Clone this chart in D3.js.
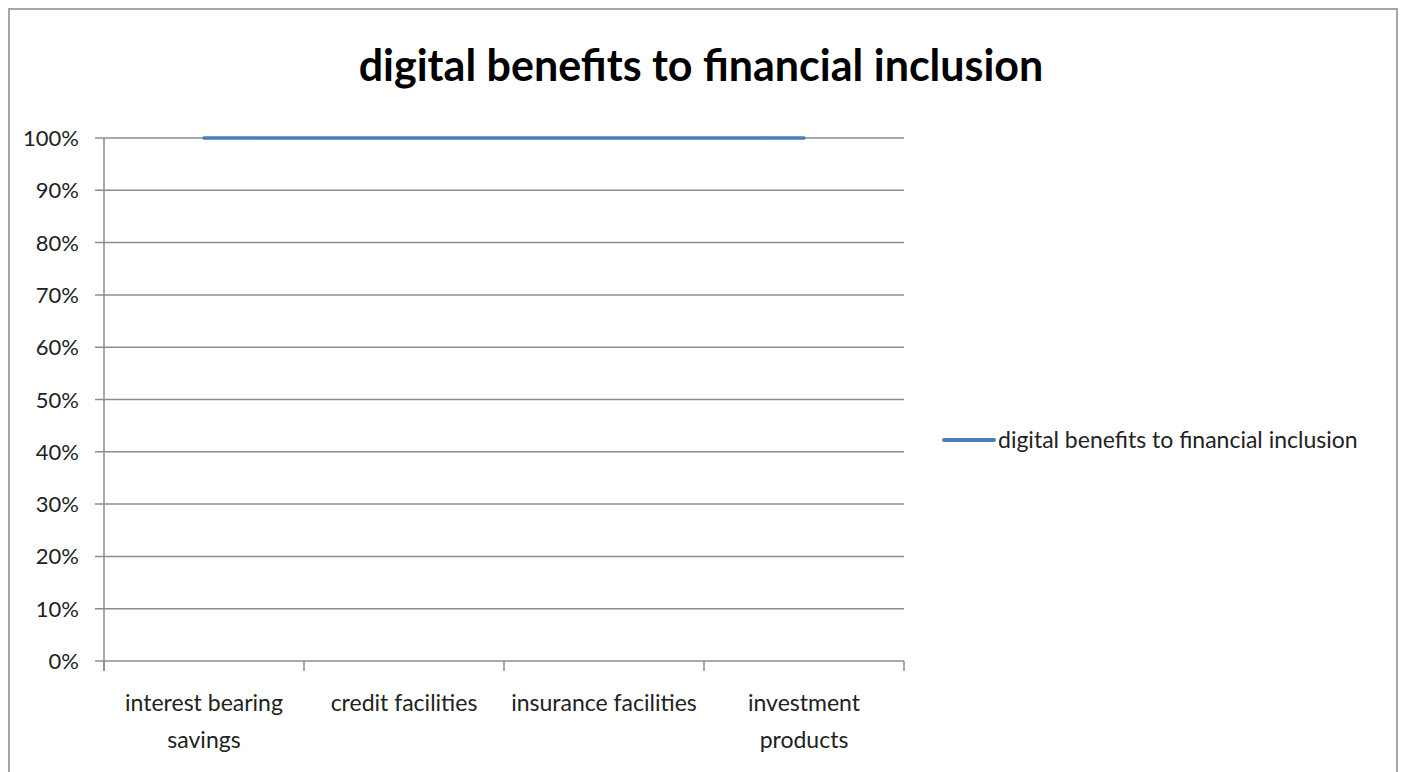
<!DOCTYPE html>
<html>
<head>
<meta charset="utf-8">
<script src="https://cdn.jsdelivr.net/npm/d3@7"></script>
<style>
  body { margin: 0; background: #fff; }
  text { font-family: Lato, "Open Sans", sans-serif; fill: #222; }
</style>
</head>
<body>
<svg id="chart" width="1402" height="772"></svg>
<script>
const svg = d3.select("#chart");

// data
const categories = [["interest bearing", "savings"], ["credit facilities"], ["insurance facilities"], ["investment", "products"]];
const values = [1, 1, 1, 1];
const yTicks = [0, 0.1, 0.2, 0.3, 0.4, 0.5, 0.6, 0.7, 0.8, 0.9, 1];
const seriesName = "digital benefits to financial inclusion";

const plot = { left: 104, right: 904, top: 138, bottom: 661 };

// chart border
svg.append("rect")
    .attr("x", 9).attr("y", 9)
    .attr("width", 1388).attr("height", 800)
    .attr("fill", "none")
    .attr("stroke", "#a6a6a6")
    .attr("stroke-width", 2);

// title
svg.append("text")
    .attr("x", 701).attr("y", 81)
    .attr("text-anchor", "middle")
    .attr("font-size", 43)
    .attr("font-weight", "bold")
    .style("fill", "#000")
    .text(seriesName);

const x = d3.scaleBand()
    .domain(d3.range(categories.length))
    .range([plot.left, plot.right]);

const y = d3.scaleLinear()
    .domain([0, 1])
    .range([plot.bottom, plot.top]);

// gridlines
svg.append("g")
    .selectAll("line")
    .data(yTicks)
    .enter().append("line")
    .attr("x1", plot.left - 9)
    .attr("x2", plot.right)
    .attr("y1", d => y(d))
    .attr("y2", d => y(d))
    .attr("stroke", "#8c8c8c")
    .attr("stroke-width", 1.5);

// y labels
svg.append("g")
    .selectAll("text")
    .data(yTicks)
    .enter().append("text")
    .attr("x", 79)
    .attr("y", d => y(d) + 8)
    .attr("text-anchor", "end")
    .attr("font-size", 22)
    .text(d => d3.format(".0%")(d));

// y axis line
svg.append("line")
    .attr("x1", plot.left).attr("x2", plot.left)
    .attr("y1", plot.top).attr("y2", plot.bottom + 10)
    .attr("stroke", "#8c8c8c")
    .attr("stroke-width", 1.5);

// x ticks
const xTickPos = d3.range(categories.length + 1).map(i => plot.left + i * x.step());
svg.append("g")
    .selectAll("line")
    .data(xTickPos)
    .enter().append("line")
    .attr("x1", d => d).attr("x2", d => d)
    .attr("y1", plot.bottom).attr("y2", plot.bottom + 10)
    .attr("stroke", "#8c8c8c")
    .attr("stroke-width", 1.5);

// x labels
const xl = svg.append("g")
    .selectAll("text")
    .data(categories)
    .enter().append("text")
    .attr("x", (d, i) => x(i) + x.bandwidth() / 2)
    .attr("y", 711)
    .attr("text-anchor", "middle")
    .attr("font-size", 23);
xl.selectAll("tspan")
    .data(d => d)
    .enter().append("tspan")
    .attr("x", function() { return d3.select(this.parentNode).attr("x"); })
    .attr("dy", (d, i) => i === 0 ? 0 : 37)
    .text(d => d);

// series line
const line = d3.line()
    .x((d, i) => x(i) + x.bandwidth() / 2)
    .y(d => y(d));

svg.append("path")
    .datum(values)
    .attr("d", line)
    .attr("fill", "none")
    .attr("stroke", "#4a7ebb")
    .attr("stroke-width", 3.5)
    .attr("stroke-linecap", "round");

// legend
svg.append("line")
    .attr("x1", 944).attr("x2", 994)
    .attr("y1", 440).attr("y2", 440)
    .attr("stroke", "#4a7ebb")
    .attr("stroke-width", 4)
    .attr("stroke-linecap", "round");

svg.append("text")
    .attr("x", 998).attr("y", 448)
    .attr("font-size", 23)
    .text(seriesName);
</script>
</body>
</html>
